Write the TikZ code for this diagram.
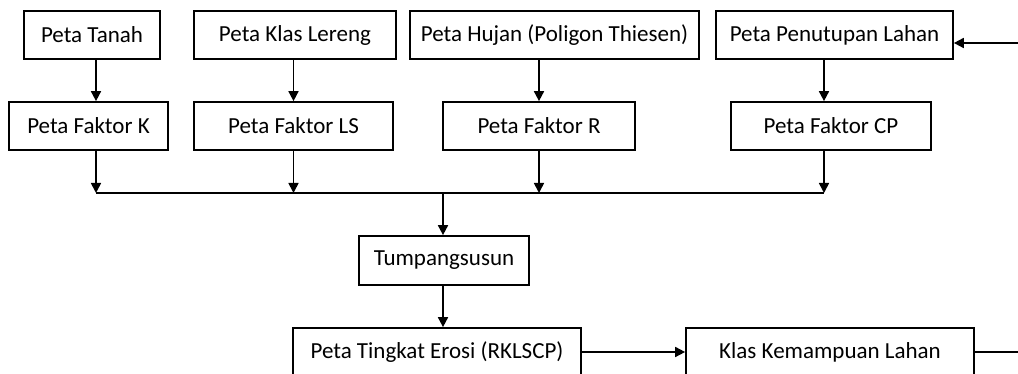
\documentclass[tikz,border=0pt]{standalone}
\usepackage{fontspec}
\setmainfont{Carlito}
\usepackage{tikz}
\usetikzlibrary{arrows.meta, positioning, calc}

\begin{document}
\begin{tikzpicture}[x=1pt, y=1pt, font=\fontsize{23}{27}\selectfont, >={Triangle[width=10pt,length=10pt]},
    box/.style={draw, line width=1.7pt, minimum height=48pt, inner sep=0pt},
    line/.style={line width=1.7pt}]
    \useasboundingbox (0,0) rectangle (1018,374);
    \clip (0,0) rectangle (1018,374);

    % baris atas
    \node[box, minimum width=136pt] (tanah) at (92,339) {Peta Tanah};
    \node[box, minimum width=202pt] (lereng) at (295,339) {Peta Klas Lereng};
    \node[box, minimum width=289pt] (hujan) at (554.5,339) {Peta Hujan (Poligon Thiesen)};
    \node[box, minimum width=237pt] (tutupan) at (834.5,339) {Peta Penutupan Lahan};

    % faktor
    \node[box, minimum width=159pt] (fk) at (88.5,248) {Peta Faktor K};
    \node[box, minimum width=199pt] (fls) at (293.5,248) {Peta Faktor LS};
    \node[box, minimum width=192pt] (fr) at (539,248) {Peta Faktor R};
    \node[box, minimum width=200pt] (fcp) at (831,248) {Peta Faktor CP};

    \node[box, minimum width=170pt, minimum height=49pt] (tumpang) at (444,113.5) {Tumpangsusun};
    \node[box, minimum width=288pt] (erosi) at (437,22) {Peta Tingkat Erosi (RKLSCP)};
    \node[box, minimum width=288pt] (klas) at (830,22) {Klas Kemampuan Lahan};

    \coordinate (busL) at (96,181);
    \coordinate (busR) at (824,181);
    \coordinate (masuk) at (1018,331);
    \coordinate (keluar) at (1018,22);

    \draw[line, ->] ([xshift=4pt]tanah.south) -- ([xshift=4pt]tanah.south |- fk.north);
    \draw[line, ->] (lereng.south -| fls.north) -- (fls.north);
    \draw[line, ->] (hujan.south -| fr.north) -- (fr.north);
    \draw[line, ->] ([xshift=-7pt]fcp.north |- tutupan.south) -- ([xshift=-7pt]fcp.north);
    \draw[line, ->] (masuk) -- (masuk -| tutupan.east);

    \draw[line, ->] (busL |- fk.south) -- (busL);
    \draw[line, ->] (fls.south) -- (fls.south |- busL);
    \draw[line, ->] (fr.south) -- (fr.south |- busL);
    \draw[line, ->] (busR |- fcp.south) -- (busR);
    \draw[line] (busL) -- (busR);

    \draw[line, ->] ([xshift=-1pt]tumpang.north |- busL) -- ([xshift=-1pt]tumpang.north);
    \draw[line, ->] ([xshift=-1pt]tumpang.south) -- ([xshift=-1pt]tumpang.south |- erosi.north);
    \draw[line, ->] (erosi.east) -- (klas.west);
    \draw[line] (klas.east) -- (keluar);
\end{tikzpicture}
\end{document}
